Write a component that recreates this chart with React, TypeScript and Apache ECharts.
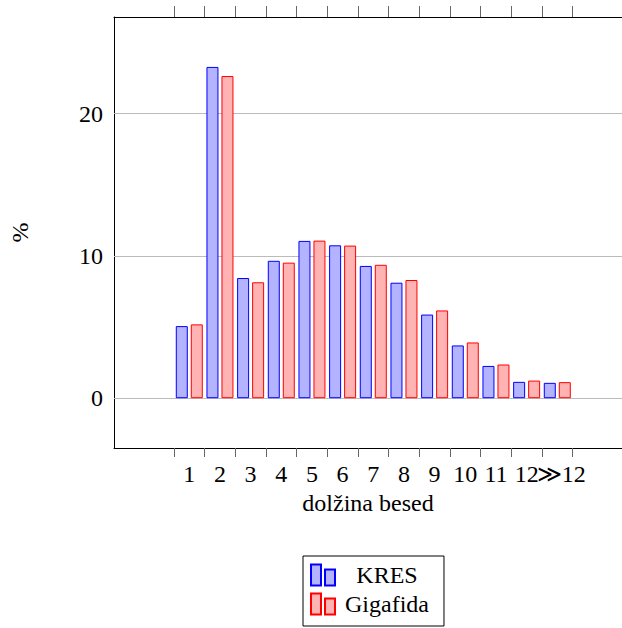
import React, { useEffect, useRef } from "react";
import * as echarts from "echarts";

const categories = ["1", "2", "3", "4", "5", "6", "7", "8", "9", "10", "11", "12", "≫12"];
const kres = [5.07, 23.29, 8.45, 9.66, 11.06, 10.75, 9.3, 8.12, 5.88, 3.71, 2.27, 1.15, 1.08];
const gigafida = [5.19, 22.65, 8.15, 9.53, 11.08, 10.73, 9.38, 8.31, 6.17, 3.92, 2.37, 1.24, 1.13];
const yTicks = [0, 10, 20];
const seriesNames = ["KRES", "Gigafida"];

const FONT = "'Liberation Serif', 'Times New Roman', serif";
const FS = 24;

export default function App() {
  const ref = useRef<HTMLDivElement>(null);
  useEffect(() => {
    if (!ref.current) return;
    const chart = echarts.init(ref.current, undefined, { renderer: "svg" });
    const positions = categories.map((_, i) => i + 1);
    const tickPos = [...positions.map((p) => p - 0.5), positions.length + 0.5];
    const xMin = -1.455;
    const xMax = 15.11;
    const legendIcon = "path://M0,0H10V21H0Z M14,5H24V21H14Z";
    const labelFmt = (v: number) => categories[Math.round(v) - 1] ?? "";
    const labelStyle = { fontFamily: FONT, fontSize: FS, color: "#000", margin: 14 };
    chart.setOption({
      animation: false,
      textStyle: { fontFamily: FONT },
      grid: { left: 114, right: 0, top: 17, bottom: 180, containLabel: false },
      legend: {
        data: seriesNames,
        orient: "vertical",
        left: 303,
        top: 556,
        padding: [7, 15, 10, 7],
        itemGap: 5,
        itemWidth: 24,
        itemHeight: 21,
        borderColor: "#000",
        borderWidth: 1,
        icon: legendIcon,
        formatter: (n: string) => `{t|${n}}`,
        textStyle: {
          fontFamily: FONT,
          fontSize: FS,
          rich: { t: { width: 94, align: "center", fontSize: FS, fontFamily: FONT, color: "#000" } },
        },
      },
      xAxis: [
        {
          type: "value",
          position: "bottom",
          min: xMin,
          max: xMax,
          name: "dolžina besed",
          nameLocation: "middle",
          nameGap: 37,
          nameTextStyle: { fontFamily: FONT, fontSize: FS, color: "#000" },
          axisLine: { show: true, onZero: false, lineStyle: { color: "#000", width: 1 } },
          axisTick: { show: true, inside: false, length: 9, customValues: tickPos, lineStyle: { color: "#666" } },
          axisLabel: {
            show: true,
            customValues: positions.slice(0, positions.length - 1),
            hideOverlap: false,
            ...labelStyle,
            formatter: labelFmt,
          },
          splitLine: { show: false },
        },
        {
          type: "value",
          position: "top",
          min: xMin,
          max: xMax,
          axisLine: { show: true, onZero: false, lineStyle: { color: "#000", width: 1 } },
          axisTick: { show: true, inside: false, length: 11, customValues: tickPos, lineStyle: { color: "#666" } },
          axisLabel: { show: false },
          splitLine: { show: false },
        },
        {
          type: "value",
          position: "bottom",
          min: xMin,
          max: xMax,
          axisLine: { show: false, onZero: false },
          axisTick: { show: false },
          axisLabel: {
            show: true,
            customValues: positions.slice(positions.length - 1),
            ...labelStyle,
            padding: [0, 0, 0, 8],
            formatter: labelFmt,
          },
          splitLine: { show: false },
        },
      ],
      yAxis: {
        type: "value",
        min: -3.5,
        max: 26.8,
        name: "%",
        nameLocation: "middle",
        nameGap: 82,
        nameTextStyle: { fontFamily: FONT, fontSize: FS, color: "#000" },
        axisLine: { show: true, onZero: false, lineStyle: { color: "#000", width: 1 } },
        axisTick: { show: false },
        axisLabel: {
          customValues: yTicks,
          margin: 11,
          fontFamily: FONT,
          fontSize: FS,
          color: "#000",
        },
        splitLine: { show: false },
      },
      series: [
        {
          name: seriesNames[0],
          type: "bar",
          xAxisIndex: 0,
          data: kres.map((v, i) => [positions[i], v]),
          barWidth: 12,
          barGap: "25%",
          z: 3,
          itemStyle: { color: "rgb(179,179,255)", borderColor: "#0000ff", borderWidth: 1 },
          markLine: {
            silent: true,
            symbol: "none",
            z: 1,
            label: { show: false },
            lineStyle: { color: "#bbb", type: "solid", width: 1 },
            data: yTicks.map((t) => ({ yAxis: t })),
          },
        },
        {
          name: seriesNames[1],
          type: "bar",
          xAxisIndex: 0,
          data: gigafida.map((v, i) => [positions[i], v]),
          barWidth: 12,
          barGap: "25%",
          z: 3,
          itemStyle: { color: "rgb(255,179,179)", borderColor: "#ff0000", borderWidth: 1 },
        },
      ],
    });
    return () => chart.dispose();
  }, []);
  return <div ref={ref} style={{ width: 622, height: 628, position: "absolute", left: 0, top: 0 }} />;
}
